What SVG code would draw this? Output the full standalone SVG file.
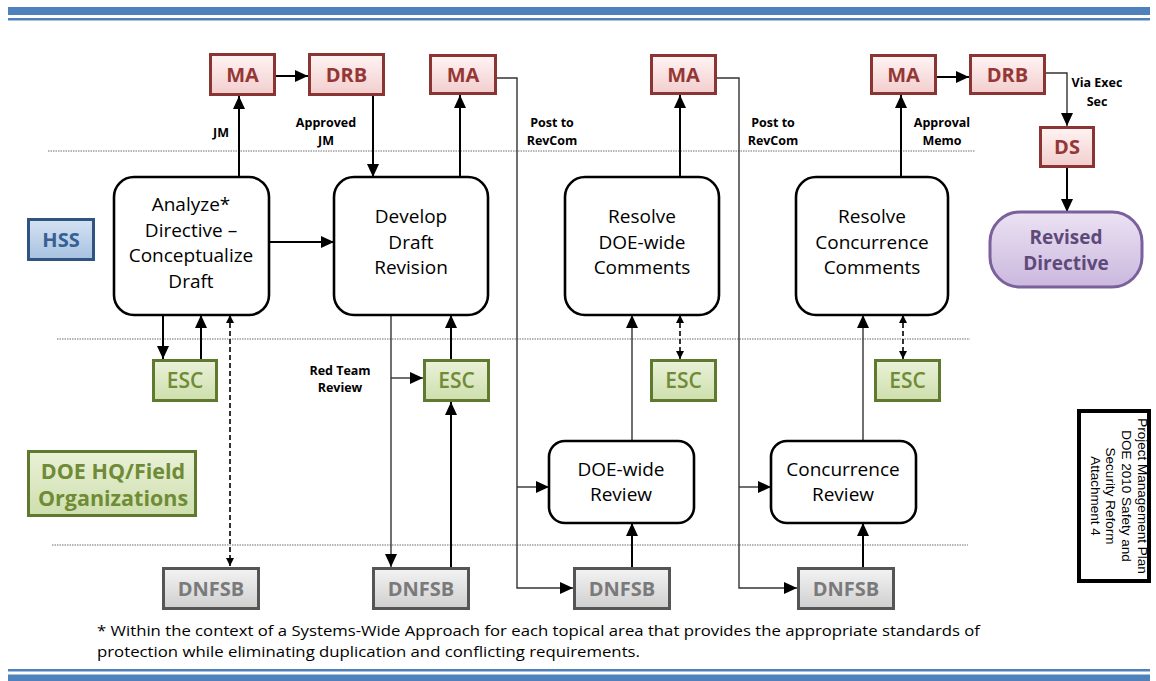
<svg xmlns="http://www.w3.org/2000/svg" width="1156" height="681" viewBox="0 0 1156 681">
<style>
.proc{fill:#fff;stroke:#000;stroke-width:2.6}
.ptxt{font-family:"Open Sans","Liberation Sans",sans-serif;font-size:19px;fill:#000;text-anchor:middle}
.lbl{font-family:"Open Sans","Liberation Sans",sans-serif;font-size:12.5px;font-weight:bold;fill:#000;text-anchor:middle}
.btxt{font-family:"Open Sans","Liberation Sans",sans-serif;font-size:20px;font-weight:bold;text-anchor:middle}
.red .o{fill:#8a3434}.red .i{fill:url(#gRed)}.red text{fill:#953735}
.grn .o{fill:#5f7a2e}.grn .i{fill:url(#gGrn)}.grn text{fill:#6f8b36;font-weight:600}
.blu .o{fill:#2f5482}.blu .i{fill:url(#gBlu)}.blu text{fill:#366092}
.gry .o{fill:#555}.gry .i{fill:url(#gGry)}.gry text{fill:#7a7a7a}
.c{fill:none;stroke:#000;stroke-width:2}
.ct{fill:none;stroke:#333;stroke-width:1.4}
.d{fill:none;stroke:#000;stroke-width:1.6;stroke-dasharray:5,3}
.sep{stroke:#a0a0a0;stroke-width:1.4;stroke-dasharray:1.5,1}
.band{fill:#4f81bd}
</style>
<defs>
<linearGradient id="gRed" x1="0" y1="0" x2="0" y2="1"><stop offset="0" stop-color="#fff2f2"/><stop offset="1" stop-color="#f3cfcf"/></linearGradient>
<linearGradient id="gGrn" x1="0" y1="0" x2="0" y2="1"><stop offset="0" stop-color="#e9f1d7"/><stop offset="1" stop-color="#cfdfae"/></linearGradient>
<linearGradient id="gBlu" x1="0" y1="0" x2="0" y2="1"><stop offset="0" stop-color="#d3e1f1"/><stop offset="1" stop-color="#a9c3e2"/></linearGradient>
<linearGradient id="gGry" x1="0" y1="0" x2="0" y2="1"><stop offset="0" stop-color="#f2f2f2"/><stop offset="1" stop-color="#d0d0d0"/></linearGradient>
<linearGradient id="gPur" x1="0" y1="0" x2="0" y2="1"><stop offset="0" stop-color="#ebe2f3"/><stop offset="1" stop-color="#cbb8de"/></linearGradient>
<marker id="ah" markerUnits="userSpaceOnUse" markerWidth="14" markerHeight="14" refX="13" refY="7" orient="auto"><path d="M0,1 L13,7 L0,13 z" fill="#000"/></marker>
<marker id="sa" markerUnits="userSpaceOnUse" markerWidth="9" markerHeight="9" refX="8" refY="4.5" orient="auto"><path d="M0,0.5 L8,4.5 L0,8.5 z" fill="#000"/></marker>
<marker id="ss" markerUnits="userSpaceOnUse" markerWidth="9" markerHeight="9" refX="0" refY="4.5" orient="auto"><path d="M8,0.5 L0,4.5 L8,8.5 z" fill="#000"/></marker>
</defs>
<rect width="1156" height="681" fill="#fff"/>
<g id="bands">
<rect class="band" x="8" y="7" width="1142" height="8"/>
<rect class="band" x="8" y="18" width="1142" height="2.5"/>
<rect class="band" x="8" y="669" width="1142" height="2.5"/>
<rect class="band" x="8" y="674.5" width="1142" height="6.5"/>
</g>
<g id="separators">
<line class="sep" x1="48" y1="151" x2="975" y2="151"/>
<line class="sep" x1="57" y1="339" x2="970" y2="339"/>
<line class="sep" x1="52" y1="545" x2="968" y2="545"/>
</g>
<g id="connectors">
<path class="c" d="M239,177 V96" marker-end="url(#ah)"/>
<path class="c" d="M276,76 H308" marker-end="url(#ah)"/>
<path class="c" d="M373,96 V177" marker-end="url(#ah)"/>
<path class="c" d="M269,242 H334" marker-end="url(#ah)"/>
<path class="c" d="M163,315 V359" marker-end="url(#ah)"/>
<path class="c" d="M201,359 V315" marker-end="url(#ah)"/>
<path class="d" d="M230,315 V566" marker-start="url(#ss)" marker-end="url(#sa)"/>
<path class="c" d="M460,177 V95" marker-end="url(#ah)"/>
<path class="ct" d="M391,315 V567" marker-end="url(#ah)"/>
<path class="ct" d="M391,378 H423" marker-end="url(#ah)"/>
<path class="c" d="M451,359 V315" marker-end="url(#ah)"/>
<path class="c" d="M451,567 V402" marker-end="url(#ah)"/>
<path class="ct" d="M497,78 H517 V588 H573" marker-end="url(#ah)"/>
<path class="ct" d="M517,487 H549" marker-end="url(#ah)"/>
<path class="c" d="M632,567 V523" marker-end="url(#ah)"/>
<path class="ct" d="M632,441 V315" marker-end="url(#ah)"/>
<path class="d" d="M680,315 V359" marker-start="url(#ss)" marker-end="url(#sa)"/>
<path class="c" d="M680,177 V95" marker-end="url(#ah)"/>
<path class="ct" d="M717,78 H739 V588 H797" marker-end="url(#ah)"/>
<path class="ct" d="M739,487 H771" marker-end="url(#ah)"/>
<path class="c" d="M863,567 V523" marker-end="url(#ah)"/>
<path class="ct" d="M863,441 V315" marker-end="url(#ah)"/>
<path class="d" d="M903,315 V359" marker-start="url(#ss)" marker-end="url(#sa)"/>
<path class="c" d="M901,177 V95" marker-end="url(#ah)"/>
<path class="c" d="M937,77 H969" marker-end="url(#ah)"/>
<path class="ct" d="M1046,73 H1067 V126" marker-end="url(#ah)"/>
<path class="c" d="M1067,168 V212" marker-end="url(#ah)"/>
</g>
<g id="labels">
<text class="lbl" x="221" y="137">JM</text>
<text class="lbl" x="326" y="127">Approved</text>
<text class="lbl" x="326" y="145">JM</text>
<text class="lbl" x="552" y="127">Post to</text>
<text class="lbl" x="552" y="145">RevCom</text>
<text class="lbl" x="773" y="127">Post to</text>
<text class="lbl" x="773" y="145">RevCom</text>
<text class="lbl" x="942" y="127">Approval</text>
<text class="lbl" x="942" y="145">Memo</text>
<text class="lbl" x="1097" y="87">Via Exec</text>
<text class="lbl" x="1097" y="106">Sec</text>
<text class="lbl" x="340" y="375">Red Team</text>
<text class="lbl" x="340" y="392">Review</text>
</g>
<g id="analyze"><rect class="proc" x="114" y="177" width="155" height="138" rx="20"/>
<text class="ptxt" x="191" y="211">Analyze*</text><text class="ptxt" x="191" y="237">Directive –</text><text class="ptxt" x="191" y="262">Conceptualize</text><text class="ptxt" x="191" y="288">Draft</text></g>
<g id="develop"><rect class="proc" x="334" y="177" width="154" height="138" rx="20"/>
<text class="ptxt" x="411" y="223">Develop</text><text class="ptxt" x="411" y="249">Draft</text><text class="ptxt" x="411" y="274">Revision</text></g>
<g id="resolve-doe"><rect class="proc" x="565" y="177" width="154" height="138" rx="20"/>
<text class="ptxt" x="642" y="223">Resolve</text><text class="ptxt" x="642" y="249">DOE-wide</text><text class="ptxt" x="642" y="274">Comments</text></g>
<g id="resolve-conc"><rect class="proc" x="796" y="177" width="152" height="138" rx="20"/>
<text class="ptxt" x="872" y="223">Resolve</text><text class="ptxt" x="872" y="249">Concurrence</text><text class="ptxt" x="872" y="274">Comments</text></g>
<g id="doe-review"><rect class="proc" x="549" y="441" width="145" height="82" rx="16"/>
<text class="ptxt" x="621" y="476">DOE-wide</text><text class="ptxt" x="621" y="501">Review</text></g>
<g id="conc-review"><rect class="proc" x="771" y="441" width="145" height="82" rx="16"/>
<text class="ptxt" x="843" y="476">Concurrence</text><text class="ptxt" x="843" y="501">Review</text></g>
<g id="ma1" class="red"><rect class="o" x="209" y="53" width="67" height="43"/><rect class="i" x="212" y="56" width="61" height="37"/><text class="btxt" x="242.5" y="82">MA</text></g>
<g id="drb1" class="red"><rect class="o" x="308" y="53" width="77" height="43"/><rect class="i" x="311" y="56" width="71" height="37"/><text class="btxt" x="346.5" y="82">DRB</text></g>
<g id="ma2" class="red"><rect class="o" x="429" y="54" width="68" height="41"/><rect class="i" x="432" y="57" width="62" height="35"/><text class="btxt" x="463" y="82">MA</text></g>
<g id="ma3" class="red"><rect class="o" x="650" y="54" width="67" height="41"/><rect class="i" x="653" y="57" width="61" height="35"/><text class="btxt" x="683.5" y="82">MA</text></g>
<g id="ma4" class="red"><rect class="o" x="870" y="54" width="67" height="41"/><rect class="i" x="873" y="57" width="61" height="35"/><text class="btxt" x="903.5" y="82">MA</text></g>
<g id="drb2" class="red"><rect class="o" x="969" y="54" width="77" height="41"/><rect class="i" x="972" y="57" width="71" height="35"/><text class="btxt" x="1007.5" y="82">DRB</text></g>
<g id="ds" class="red"><rect class="o" x="1039" y="126" width="56" height="42"/><rect class="i" x="1042" y="129" width="50" height="36"/><text class="btxt" x="1067" y="154">DS</text></g>
<g id="revised"><rect x="990" y="212" width="152" height="75" rx="30" fill="url(#gPur)" stroke="#7b619c" stroke-width="3"/>
<text class="btxt" x="1066" y="244" style="fill:#5f497a;font-size:19px">Revised</text><text class="btxt" x="1066" y="270" style="fill:#5f497a;font-size:19px">Directive</text></g>
<g id="hss" class="blu"><rect class="o" x="27" y="218" width="68" height="43"/><rect class="i" x="30" y="221" width="62" height="37"/><text class="btxt" x="61" y="247">HSS</text></g>
<g id="doehq" class="grn"><rect class="o" x="27" y="450" width="170" height="67"/><rect class="i" x="30" y="453" width="164" height="61"/><text class="btxt" x="113" y="479" style="font-size:21.5px;font-weight:bold">DOE HQ/Field</text><text class="btxt" x="113" y="506" style="font-size:21.5px;font-weight:bold">Organizations</text></g>
<g id="esc1" class="grn"><rect class="o" x="152" y="359" width="66" height="43"/><rect class="i" x="155" y="362" width="60" height="37"/><text class="btxt" x="185" y="388" style="font-size:21px">ESC</text></g>
<g id="esc2" class="grn"><rect class="o" x="423" y="359" width="67" height="43"/><rect class="i" x="426" y="362" width="61" height="37"/><text class="btxt" x="456.5" y="388" style="font-size:21px">ESC</text></g>
<g id="esc3" class="grn"><rect class="o" x="650" y="359" width="67" height="43"/><rect class="i" x="653" y="362" width="61" height="37"/><text class="btxt" x="683.5" y="388" style="font-size:21px">ESC</text></g>
<g id="esc4" class="grn"><rect class="o" x="874" y="359" width="67" height="43"/><rect class="i" x="877" y="362" width="61" height="37"/><text class="btxt" x="907.5" y="388" style="font-size:21px">ESC</text></g>
<g id="dnfsb1" class="gry"><rect class="o" x="162" y="567" width="98" height="43"/><rect class="i" x="165" y="570" width="92" height="37"/><text class="btxt" x="211" y="596">DNFSB</text></g>
<g id="dnfsb2" class="gry"><rect class="o" x="372" y="567" width="98" height="43"/><rect class="i" x="375" y="570" width="92" height="37"/><text class="btxt" x="421" y="596">DNFSB</text></g>
<g id="dnfsb3" class="gry"><rect class="o" x="573" y="567" width="98" height="43"/><rect class="i" x="576" y="570" width="92" height="37"/><text class="btxt" x="622" y="596">DNFSB</text></g>
<g id="dnfsb4" class="gry"><rect class="o" x="797" y="567" width="98" height="43"/><rect class="i" x="800" y="570" width="92" height="37"/><text class="btxt" x="846" y="596">DNFSB</text></g>
<g id="attachment">
<rect x="1079" y="411" width="70" height="170" fill="#fff" stroke="#000" stroke-width="4"/>
<g transform="translate(1090,496) rotate(90)" font-family="'Liberation Sans',Arial,sans-serif" font-size="13.5" text-anchor="middle" fill="#000">
<text x="0" y="-48">Project Management Plan</text>
<text x="0" y="-32">DOE 2010 Safety and</text>
<text x="0" y="-16">Security Reform</text>
<text x="0" y="-1">Attachment 4</text>
</g>
</g>
<g id="footnote" font-family="'Open Sans','Liberation Sans',sans-serif" font-size="15" fill="#000">
<text x="97" y="636" textLength="883" lengthAdjust="spacingAndGlyphs">* Within the context of a Systems-Wide Approach for each topical area that provides the appropriate standards of</text>
<text x="97" y="657" textLength="543" lengthAdjust="spacingAndGlyphs">protection while eliminating duplication and conflicting requirements.</text>
</g>
</svg>
